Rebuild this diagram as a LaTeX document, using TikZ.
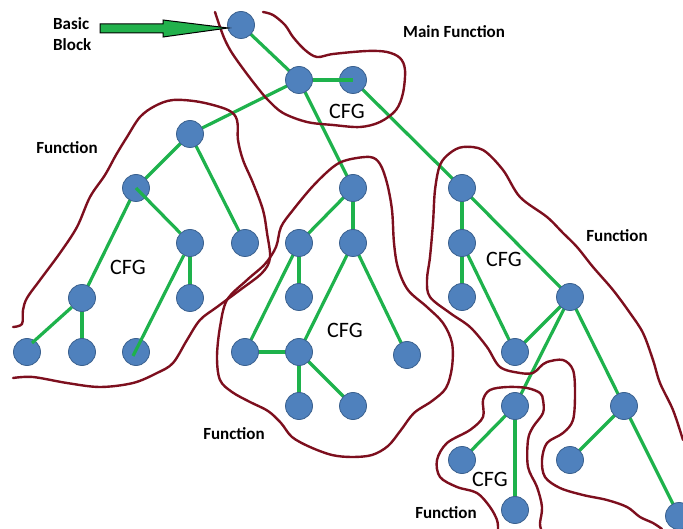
\documentclass[tikz,border=0pt]{standalone}
\usepackage{fontspec}
\setmainfont{Carlito}
\usetikzlibrary{backgrounds}
\definecolor{bbfill}{RGB}{79,129,189}
\definecolor{bbedge}{RGB}{58,96,142}
\definecolor{cfgedge}{RGB}{30,178,76}
\definecolor{fnline}{RGB}{125,15,30}
\definecolor{arrowgreen}{RGB}{34,177,76}
\tikzset{
  bb/.style={circle, fill=bbfill, draw=bbedge, line width=0.8pt, minimum size=27pt, inner sep=0pt},
  flow/.style={draw=cfgedge, line width=3.2pt},
  fnborder/.style={draw=fnline, line width=2.4pt, line join=round, line cap=round},
  fnlabel/.style={font=\fontsize{17}{20}\selectfont\bfseries, inner sep=0pt},
  cfglabel/.style={font=\fontsize{22}{24}\selectfont, inner sep=0pt}
}
\begin{document}
\begin{tikzpicture}[x=1pt,y=-1pt]
\useasboundingbox (0,0) rectangle (683,529);

% ---- function outlines ----
% main function
\draw[fnborder] plot[smooth, tension=0.55] coordinates {(215,12) (220,27) (225,40) (232,53) (244,70) (257,87) (268,100) (283,113) (307,122) (333,125) (360,127) (380,122) (396,110) (403,93) (405,70) (400,58) (387,52) (367,51) (333,54) (317,57) (305,50) (293,37) (285,25) (273,15) (263,12)};
% left function
\draw[fnborder] plot[smooth, tension=0.55] coordinates {(13,378) (33,377) (67,383) (100,387) (133,383) (157,373) (173,363) (187,340) (200,320) (217,307) (240,290) (262,273) (270,258) (267,233) (263,210) (253,183) (243,160) (238,140) (237,120) (228,110) (200,102) (173,100) (155,106) (140,117) (127,137) (116,155) (105,175) (90,197) (77,227) (60,253) (40,280) (27,298) (23,310) (22,324) (13,327)};
% middle function
\draw[fnborder] plot[smooth cycle, tension=0.55] coordinates {(347,160) (370,157) (380,164) (387,183) (392,210) (394,243) (398,268) (408,290) (427,307) (443,323) (452,343) (452,367) (446,388) (432,401) (414,413) (401,430) (388,446) (372,455) (352,457) (332,455) (310,447) (292,437) (281,423) (268,411) (250,402) (232,392) (220,380) (217,357) (220,327) (227,300) (247,280) (265,264) (276,247) (281,227) (293,210) (313,186) (333,167)};
% right function
\draw[fnborder] plot[smooth, tension=0.55] coordinates {(683,440) (673,410) (660,383) (653,360) (643,333) (630,313) (613,290) (593,267) (577,247) (563,233) (547,217) (520,197) (503,170) (483,150) (463,147) (450,153) (440,165) (435,190) (433,223) (430,257) (427,280) (430,297) (450,313) (470,327) (487,347) (500,367) (520,373) (533,373) (540,367) (547,362) (563,360) (573,370) (575,393) (573,420) (563,433) (547,443) (542,460) (545,477) (560,488) (583,495) (607,500) (627,507) (640,517) (653,523) (662,529)};
% bottom function
\draw[fnborder] plot[smooth, tension=0.55] coordinates {(498,529) (497,520) (490,507) (477,493) (457,487) (440,477) (437,460) (447,443) (470,430) (483,417) (483,400) (490,390) (507,387) (527,388) (540,393) (543,400) (543,413) (533,427) (528,440) (528,467) (537,487) (542,507) (540,523) (541,529)};

% ---- basic blocks ----
\node[bb] (m1) at (241,25) {};
\node[bb] (m2) at (299,80) {};
\node[bb] (m3) at (353,80) {};

\node[bb] (l1) at (190,134) {};
\node[bb] (l2) at (136,188) {};
\node[bb] (l3) at (190,243) {};
\node[bb] (l4) at (245,243) {};
\node[bb] (l5) at (82,298) {};
\node[bb] (l6) at (190,298) {};
\node[bb] (l7) at (27,352) {};
\node[bb] (l8) at (82,352) {};
\node[bb] (l9) at (136,352) {};

\node[bb] (c1) at (353,188) {};
\node[bb] (c2) at (299,243) {};
\node[bb] (c3) at (353,243) {};
\node[bb] (c4) at (299,297) {};
\node[bb] (c5) at (245,352) {};
\node[bb] (c6) at (299,352) {};
\node[bb] (c7) at (407,355) {};
\node[bb] (c8) at (299,406) {};
\node[bb] (c9) at (353,406) {};

\node[bb] (r1) at (462,188) {};
\node[bb] (r2) at (462,243) {};
\node[bb] (r3) at (462,297) {};
\node[bb] (r4) at (515,352) {};
\node[bb] (r5) at (570,297) {};
\node[bb] (r6) at (624,406) {};
\node[bb] (r7) at (570,460) {};
\node[bb] (r8) at (679,516) {};

\node[bb] (b1) at (515,406) {};
\node[bb] (b2) at (462,460) {};
\node[bb] (b3) at (515,510) {};

% ---- control flow edges ----
\begin{scope}[on background layer]
\draw[flow] (m1.center) -- (m2.center);
\draw[flow] (m2.center) -- (l1.center);
\draw[flow] (m2.center) -- (c1.center);
\draw[flow] (m3.center) -- (r1.center);

\draw[flow] (l1.center) -- (l2.center);
\draw[flow] (l1.center) -- (l4.center);
\draw[flow] (l2.center) -- (l5.center);
\draw[flow] (l3.center) -- (l6.center);
\draw[flow] (l5.center) -- (l8.center);

\draw[flow] (c1.center) -- (c2.center);
\draw[flow] (c1.center) -- (c3.center);
\draw[flow] (c2.center) -- (c4.center);
\draw[flow] (c2.center) -- (c5.center);
\draw[flow] (c3.center) -- (c6.center);
\draw[flow] (c3.center) -- (c7.center);
\draw[flow] (c5.center) -- (c6.center);
\draw[flow] (c6.center) -- (c8.center);
\draw[flow] (c6.center) -- (c9.center);

\draw[flow] (r1.center) -- (r2.center);
\draw[flow] (r1.center) -- (r5.center);
\draw[flow] (r2.center) -- (r3.center);
\draw[flow] (r2.center) -- (r4.center);
\draw[flow] (r5.center) -- (r4.center);
\draw[flow] (r5.center) -- (b1.center);
\draw[flow] (r5.center) -- (r6.center);
\draw[flow] (r6.center) -- (r7.center);
\draw[flow] (r6.center) -- (r8.center);

\draw[flow] (b1.center) -- (b2.center);
\draw[flow] (b1.center) -- (b3.center);
\end{scope}
% edges that run over a block
\draw[flow] (m2) -- (m3.center);
\draw[flow] (l2.center) -- (l3);
\draw[flow] (l5) -- ([shift={(5,-9)}]l7.center);
\draw[flow] (l3) -- ([shift={(-3,4)}]l9.center);

% ---- basic block pointer ----
\draw[fill=arrowgreen, draw=black, line width=1pt, line join=miter]
  (100,24) -- (163,24) -- (163,20) -- (228,28) -- (163,37) -- (163,33) -- (100,33) -- cycle;

% ---- labels ----
\node[fnlabel, align=left, anchor=north west, font=\fontsize{17}{21}\selectfont\bfseries] (bblabel) at (53,17) {Basic\\Block};
\node[fnlabel, anchor=west] (mainfn) at (403,32) {Main Function};
\node[fnlabel] (fnleft) at (67,148) {Function};
\node[fnlabel] (fnright) at (617,236) {Function};
\node[fnlabel] (fnmid) at (234,434) {Function};
\node[fnlabel] (fnbottom) at (446,513) {Function};

\node[cfglabel] (cfgmain) at (347,111) {CFG};
\node[cfglabel] (cfgleft) at (128,267) {CFG};
\node[cfglabel] (cfgmid) at (345,330) {CFG};
\node[cfglabel] (cfgright) at (504,259) {CFG};
\node[cfglabel] (cfgbottom) at (490,479) {CFG};
\end{tikzpicture}
\end{document}
